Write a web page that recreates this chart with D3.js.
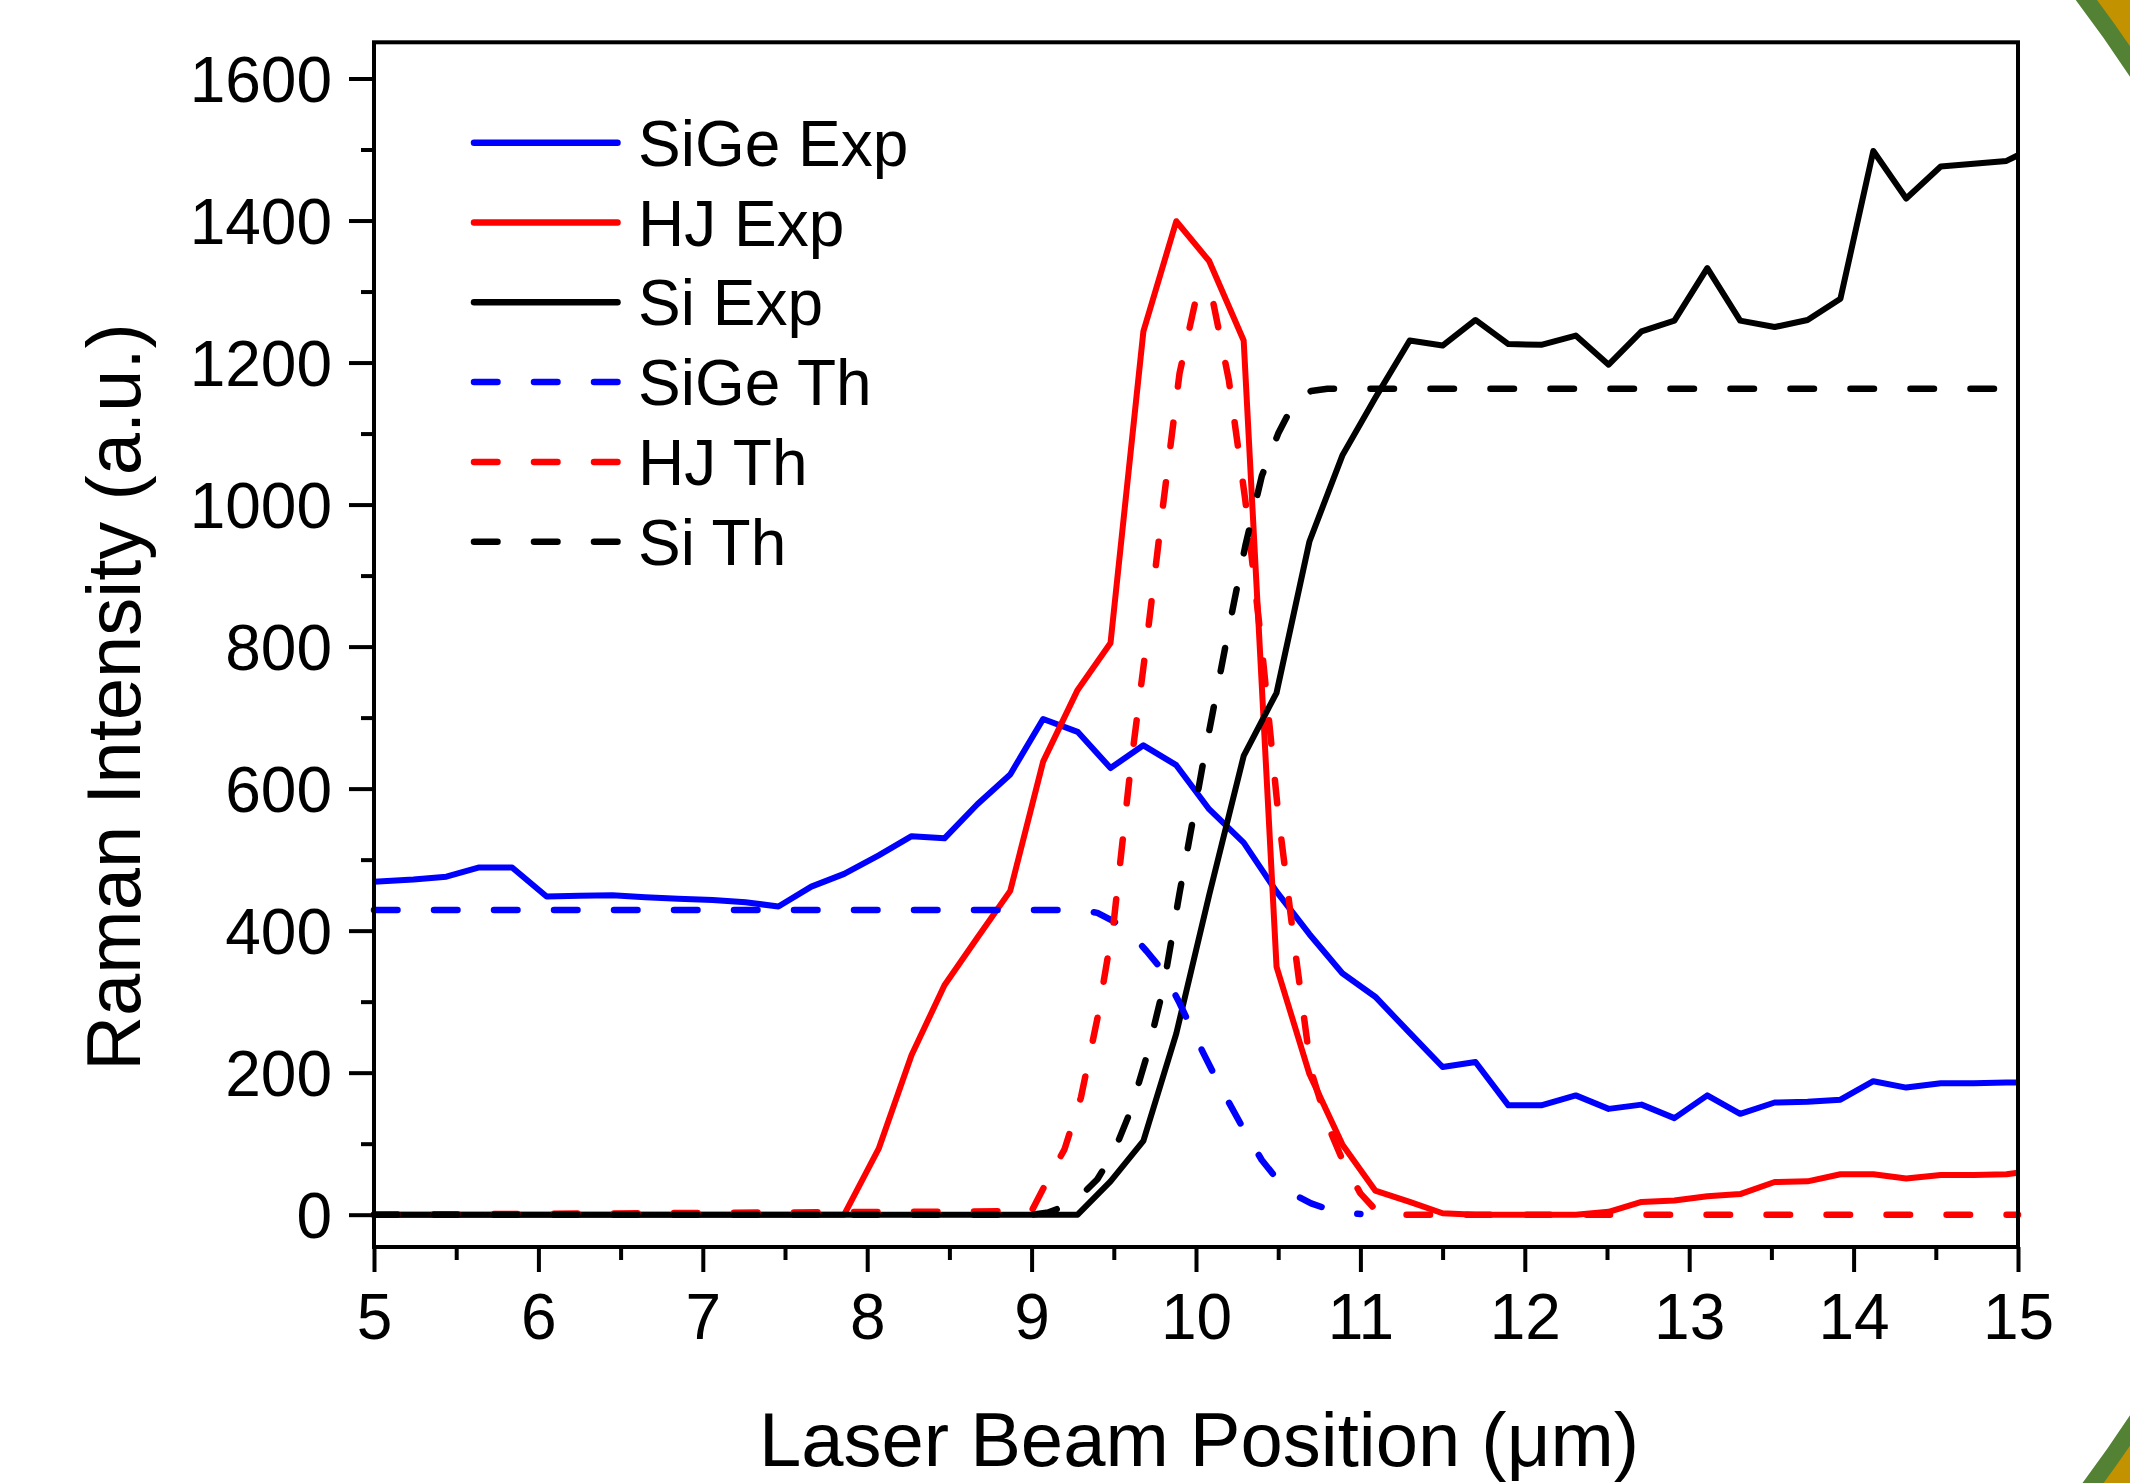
<!DOCTYPE html>
<html>
<head>
<meta charset="utf-8">
<script src="https://cdn.jsdelivr.net/npm/d3@7"></script>
<style>
  html, body { margin: 0; padding: 0; background: #fff; }
  svg { display: block; }
  text { font-family: "Liberation Sans", Arial, sans-serif; fill: #000; }
</style>
</head>
<body>
<div id="chart"></div>
<script>
// laser beam positions of the measured scans (um)
var positions = [5.00, 5.24, 5.44, 5.64, 5.84, 6.05, 6.25, 6.45, 6.65, 6.85,
  7.06, 7.26, 7.46, 7.66, 7.86, 8.07, 8.27, 8.47, 8.67, 8.87,
  9.07, 9.28, 9.48, 9.68, 9.88, 10.08, 10.29, 10.49, 10.69, 10.89,
  11.09, 11.30, 11.50, 11.70, 11.90, 12.10, 12.31, 12.51, 12.71, 12.91,
  13.11, 13.31, 13.52, 13.72, 13.92, 14.12, 14.32, 14.53, 14.73, 14.93, 15.00];

var sigeExp = [469, 472, 476, 489, 489, 448, 449, 450, 447, 445,
  443, 440, 434, 462, 480, 506, 533, 530, 578, 620,
  698, 680, 629, 661, 633, 571, 524, 455, 395, 340,
  307, 256, 208, 215, 154, 154, 168, 149, 155, 136,
  168, 142, 158, 159, 162, 188, 179, 185, 185, 186, 186];

var hjExp = [0, 0, 0, 0, 0, 0, 0, 0, 0, 0,
  0, 0, 0, 0, 0, 93, 225, 323, 390, 456,
  638, 739, 805, 1244, 1399, 1343, 1231, 349, 198, 99,
  34, 18, 2, 0, 0, 0, 0, 4, 18, 20,
  26, 29, 46, 47, 57, 57, 51, 56, 56, 57, 59];

var siExp = [0, 0, 0, 0, 0, 0, 0, 0, 0, 0,
  0, 0, 0, 0, 0, 0, 0, 0, 0, 0,
  0, 0, 47, 104, 255, 450, 646, 735, 948, 1069,
  1150, 1231, 1224, 1260, 1226, 1225, 1238, 1197, 1244, 1259,
  1333, 1259, 1250, 1260, 1290, 1498, 1431, 1476, 1480, 1484, 1492];

// theory curves
var thPositions = [5.0, 9.0, 9.1, 9.2, 9.3, 9.4, 9.5, 9.6, 9.7, 9.8,
  9.9, 10.0, 10.05, 10.1, 10.2, 10.3, 10.4, 10.5, 10.6, 10.7,
  10.8, 10.9, 11.0, 11.1, 11.2, 15.0];

var sigeTh = [429, 429, 429, 429, 429, 425, 413, 397, 371, 343,
  298, 249, 225, 202, 158, 116, 77, 48, 28, 16,
  8, 3, 1, null, null, null];

var hjTh = [0, 5, 50, 92, 165, 276, 413, 625, 807, 1000,
  1185, 1290, 1303, 1290, 1175, 1006, 800, 565, 377, 203,
  127, 72, 30, 5, 0, 0];

var siTh = [0, 0, 3, 12, 27, 50, 88, 145, 223, 318,
  453, 580, 645, 705, 826, 942, 1040, 1100, 1145, 1160,
  1163, 1163, 1163, 1163, 1163, 1163];

var xTicks = [5, 6, 7, 8, 9, 10, 11, 12, 13, 14, 15];
var xMinorTicks = [5.5, 6.5, 7.5, 8.5, 9.5, 10.5, 11.5, 12.5, 13.5, 14.5];
var yTicks = [0, 200, 400, 600, 800, 1000, 1200, 1400, 1600];
var yMinorTicks = [100, 300, 500, 700, 900, 1100, 1300, 1500];

var seriesNames = ["SiGe Exp", "HJ Exp", "Si Exp", "SiGe Th", "HJ Th", "Si Th"];
var seriesColors = ["#0000ff", "#ff0000", "#000000", "#0000ff", "#ff0000", "#000000"];

var W = 2130, H = 1483;
var margin = {top: 42.3, left: 374};
var width = 1644;
var height = 1204.7;
var dash = "23.5,36.5";

var svg = d3.select("#chart")
  .append("svg")
    .attr("width", W)
    .attr("height", H);

// gold corners with green ring behind the chart
svg.append("rect")
  .attr("width", W)
  .attr("height", H)
  .attr("fill", "#c29200");
svg.append("ellipse")
  .attr("cx", 700)
  .attr("cy", 746)
  .attr("rx", 1643.4)
  .attr("ry", 1389.3)
  .attr("fill", "#fff")
  .attr("stroke", "#548235")
  .attr("stroke-width", 17);

var g = svg.append("g")
  .attr("transform", "translate(" + margin.left + "," + margin.top + ")");

var x = d3.scaleLinear()
  .domain([5, 15])
  .range([0, width]);

var y = d3.scaleLinear()
  .domain([-45.5, 1651])
  .range([height, 0]);

// axes: major ticks with labels, minor ticks without
var xAxis = g.append("g")
  .attr("transform", "translate(0," + height + ")")
  .call(d3.axisBottom(x).tickValues(xTicks).tickSize(25).tickPadding(22).tickFormat(d3.format("d")));
var xMinor = g.append("g")
  .attr("transform", "translate(0," + height + ")")
  .call(d3.axisBottom(x).tickValues(xMinorTicks).tickSize(13).tickFormat(""));
var yAxis = g.append("g")
  .call(d3.axisLeft(y).tickValues(yTicks).tickSize(25).tickPadding(17).tickFormat(d3.format("d")));
var yMinor = g.append("g")
  .call(d3.axisLeft(y).tickValues(yMinorTicks).tickSize(13).tickFormat(""));

[xAxis, xMinor, yAxis, yMinor].forEach(function(a) {
  a.select(".domain").remove();
  a.selectAll(".tick line").attr("stroke", "#000").attr("stroke-width", 4);
  a.selectAll(".tick text")
    .attr("font-size", 64)
    .attr("font-family", "'Liberation Sans', Arial, sans-serif")
    .attr("fill", "#000");
});
yAxis.selectAll(".tick text").attr("dy", "0.36em");

// data lines
function lineFor(xs, ys) {
  var pts = xs.map(function(d, i) { return [d, ys[i]]; });
  var line = d3.line()
    .defined(function(d) { return d[1] != null; })
    .x(function(d) { return x(d[0]); })
    .y(function(d) { return y(d[1]); });
  return line(pts);
}

var series = [
  {xs: positions, ys: sigeExp, dashed: false},
  {xs: positions, ys: hjExp, dashed: false},
  {xs: positions, ys: siExp, dashed: false},
  {xs: thPositions, ys: sigeTh, dashed: true},
  {xs: thPositions, ys: hjTh, dashed: true},
  {xs: thPositions, ys: siTh, dashed: true}
];

series.forEach(function(s, i) {
  g.append("path")
    .attr("d", lineFor(s.xs, s.ys))
    .attr("fill", "none")
    .attr("stroke", seriesColors[i])
    .attr("stroke-width", s.dashed ? 6.5 : 6)
    .attr("stroke-linejoin", "round")
    .attr("stroke-linecap", s.dashed ? "round" : "butt")
    .attr("stroke-dasharray", s.dashed ? dash : null);
});

// frame
g.append("rect")
  .attr("width", width)
  .attr("height", height)
  .attr("fill", "none")
  .attr("stroke", "#000")
  .attr("stroke-width", 4);

// legend
var legend = svg.append("g").attr("transform", "translate(474,142.7)");
seriesNames.forEach(function(name, i) {
  var row = legend.append("g").attr("transform", "translate(0," + (i * 79.8) + ")");
  row.append("line")
    .attr("x1", 0)
    .attr("x2", 143.5)
    .attr("stroke", seriesColors[i])
    .attr("stroke-width", 6.5)
    .attr("stroke-linecap", "round")
    .attr("stroke-dasharray", i > 2 ? dash : null);
  row.append("text")
    .attr("x", 164)
    .attr("y", 23)
    .attr("font-size", 64)
    .text(name);
});

// axis titles
svg.append("text")
  .attr("x", 1199)
  .attr("y", 1466)
  .attr("text-anchor", "middle")
  .attr("font-size", 76)
  .text("Laser Beam Position (\u03bcm)");

svg.append("text")
  .attr("transform", "translate(140,697) rotate(-90)")
  .attr("text-anchor", "middle")
  .attr("font-size", 76)
  .text("Raman Intensity (a.u.)");
</script>
</body>
</html>
